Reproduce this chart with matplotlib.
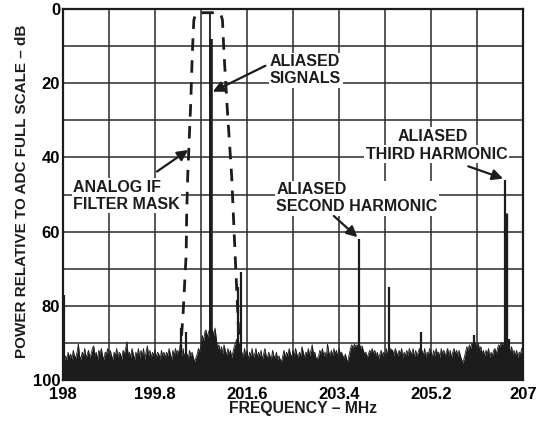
import numpy as np
import matplotlib
matplotlib.use('Agg')
import matplotlib.pyplot as plt
from matplotlib.ticker import MultipleLocator

plt.rcParams['font.family'] = ['Liberation Sans', 'DejaVu Sans']
plt.rcParams['font.weight'] = 'bold'

# ---------------- data ----------------
freq_start_mhz = 198.0
freq_step_mhz = 0.025
noise_floor_db = [
    94.5, 95.0, 93.5, 94.5, 92.5, 94.0, 93.0, 94.5, 92.0, 93.5,
    94.0, 92.5, 90.3, 93.5, 94.5, 92.5, 93.5, 91.5, 94.0, 93.0,
    92.0, 94.0, 93.0, 91.5, 90.8, 93.5, 92.5, 94.5, 92.0, 93.0,
    91.5, 93.5, 94.5, 92.5, 93.0, 91.5, 94.0, 92.0, 93.5, 94.5,
    92.5, 93.5, 91.5, 94.0, 92.5, 93.0, 94.5, 92.0, 93.0, 91.5,
    89.7, 93.5, 92.5, 94.0, 91.5, 93.0, 94.5, 92.5, 93.5, 91.5,
    94.0, 92.0, 93.5, 91.5, 94.5, 92.5, 90.8, 93.5, 92.0, 94.0,
    92.5, 93.5, 91.8, 94.0, 92.5, 93.0, 94.5, 92.0, 93.5, 92.5,
    94.0, 92.5, 93.5, 91.5, 93.0, 94.5, 92.0, 93.5, 91.5, 93.0,
    92.0, 94.0, 92.5, 93.5, 91.5, 94.0, 92.5, 93.0, 94.5, 92.0,
    93.5, 92.5, 94.0, 95.1, 94.0, 93.0, 91.5, 92.5, 90.5, 88.0,
    89.5, 87.0, 86.5, 88.5, 87.0, 86.0, 87.5, 86.5, 88.0, 86.0,
    89.0, 91.5, 90.5, 92.5, 91.0, 93.0, 90.5, 92.0, 93.5, 91.5,
    93.0, 92.0, 94.0, 92.5, 91.0, 90.0, 89.0, 92.0, 91.5, 93.5,
    92.5, 94.0, 91.5, 93.5, 92.0, 94.5, 92.5, 93.5, 91.5, 94.0,
    93.0, 91.5, 94.0, 92.5, 93.5, 92.0, 94.5, 93.0, 91.5, 93.5,
    94.0, 92.5, 93.5, 94.5, 92.0, 93.5, 94.0, 92.5, 94.5, 93.5,
    94.5, 95.0, 93.5, 92.0, 94.0, 92.5, 93.5, 91.5, 93.0, 94.0,
    92.0, 93.5, 91.5, 93.0, 94.0, 92.5, 93.5, 91.0, 92.5, 94.0,
    92.5, 93.0, 91.5, 93.5, 92.0, 90.5, 93.0, 92.5, 94.0, 94.3,
    93.5, 92.0, 93.0, 91.5, 93.5, 92.5, 94.0, 90.3, 92.5, 93.5,
    92.0, 93.5, 91.5, 93.0, 92.0, 94.0, 91.5, 93.0, 92.5, 93.5,
    94.0, 93.0, 94.5, 94.9, 93.0, 91.5, 90.5, 91.5, 90.3, 91.0,
    90.5, 91.0, 90.3, 91.5, 90.8, 92.0, 93.0, 92.5, 94.0, 93.0,
    92.0, 92.5, 91.5, 93.0, 92.0, 93.5, 92.5, 94.3, 93.0, 92.0,
    93.5, 92.5, 94.0, 91.5, 93.0, 92.5, 91.5, 91.8, 92.0, 93.5,
    91.5, 92.5, 93.5, 92.0, 93.0, 91.5, 94.0, 92.5, 93.5, 92.0,
    93.5, 91.5, 92.5, 93.0, 91.5, 94.0, 92.0, 93.5, 92.5, 91.5,
    93.0, 92.0, 93.5, 91.5, 94.0, 92.5, 93.0, 91.5, 92.5, 94.0,
    92.0, 93.5, 91.5, 93.0, 92.5, 94.0, 91.5, 93.0, 92.0, 93.5,
    92.5, 91.5, 93.5, 92.0, 94.0, 92.5, 91.5, 93.0, 92.0, 93.5,
    92.0, 93.5, 94.5, 95.5, 94.0, 92.5, 91.0, 92.0, 90.5, 91.5,
    90.0, 91.0, 89.5, 90.5, 91.5, 90.0, 92.0, 91.0, 93.0, 92.0,
    93.5, 92.0, 93.0, 91.5, 94.0, 92.5, 93.5, 92.0, 91.5, 93.0,
    91.5, 90.5, 91.0, 89.8, 90.5, 90.0, 91.5, 90.5, 92.0, 91.0,
    92.5, 91.0, 93.0, 92.0, 93.5, 92.0, 94.0, 92.5, 93.0, 91.5,
    92.5,
]

spur_freq_mhz = [198.01, 200.30, 200.40, 201.42, 201.48, 203.79,
                 204.38, 205.00, 206.04, 206.65, 206.72]
spur_level_db = [77, 86, 87, 75, 71, 62, 75, 87, 88, 46, 89]

signal_freq_mhz = [200.88, 200.90]
signal_level_db = [1, 8]

third_body_freq_mhz = [206.66]
third_body_level_db = [55]

mask_freq_mhz = [200.29, 200.35, 200.41, 200.42, 200.44, 200.47, 200.50,
                 200.53, 200.56, 200.60, 200.84, 201.08, 201.12, 201.15,
                 201.21, 201.30, 201.37, 201.42, 201.46]
mask_level_db = [94, 82, 66, 55, 45, 35, 25, 12, 3, 1, 1, 1, 3, 12,
                 26, 45, 67, 82, 94]

x_ticks = [198, 199.8, 201.6, 203.4, 205.2, 207]
x_tick_labels = ['198', '199.8', '201.6', '203.4', '205.2', '207']
y_ticks = [0, 20, 40, 60, 80, 100]
y_tick_labels = ['0', '20', '40', '60', '80', '100']

# ---------------- figure ----------------
W, H = 542, 421
fig = plt.figure(figsize=(W / 100, H / 100), dpi=100)
ax = fig.add_axes([63 / W, 1 - 380 / H, 460 / W, 371 / H])

ink = '#1c1c1c'
freqs = freq_start_mhz + freq_step_mhz * np.arange(len(noise_floor_db))
ax.fill_between(freqs, noise_floor_db, 100, color=ink, lw=0, zorder=3)
ax.plot(freqs, noise_floor_db, color=ink, lw=0.6, zorder=3)

ax.vlines(spur_freq_mhz, spur_level_db, 100, color=ink, lw=1.6, zorder=4)
ax.vlines(third_body_freq_mhz, third_body_level_db, 100, color=ink, lw=2.4, zorder=4)
ax.vlines(signal_freq_mhz[0], signal_level_db[0], 100, color=ink, lw=1.3, zorder=4)
ax.vlines(signal_freq_mhz[1], signal_level_db[1], 100, color=ink, lw=2.6, zorder=4)

ax.plot(mask_freq_mhz, mask_level_db, color=ink, lw=2.0,
        dashes=(4.5, 3.4), zorder=4)

ax.set_xlim(198, 207)
ax.set_ylim(100, 0)
ax.set_xticks(x_ticks)
ax.set_xticklabels(x_tick_labels)
ax.set_yticks(y_ticks)
ax.set_yticklabels(y_tick_labels)
ax.xaxis.set_minor_locator(MultipleLocator(0.9))
ax.yaxis.set_minor_locator(MultipleLocator(10))
ax.grid(True, which='both', color='#2a2a2a', lw=1.1, zorder=1)
ax.set_axisbelow(True)
ax.tick_params(which='both', length=0, labelsize=12)
ax.tick_params(axis='x', pad=5)
ax.tick_params(axis='y', pad=2)
for s in ax.spines.values():
    s.set_linewidth(1.6)
    s.set_color(ink)
    s.set_zorder(6)

fig.text(303 / W, 1 - 408 / H, 'FREQUENCY – MHz', fontsize=11.3,
         fontweight='bold', ha='center', va='center', color=ink)
fig.text(22 / W, 1 - 191 / H, 'POWER RELATIVE TO ADC FULL SCALE – dB',
         fontsize=11.0, fontweight='bold', rotation=90, ha='center',
         va='center', color=ink)

box = dict(facecolor='white', edgecolor='none', pad=1.0)
arrow = dict(arrowstyle='-|>', color=ink, lw=1.6, mutation_scale=16,
             shrinkA=0, shrinkB=0)
tfont = dict(fontsize=11.5, fontweight='bold', color=ink, zorder=5,
             linespacing=1.15)

ax.text(202.05, 16.5, 'ALIASED\nSIGNALS', ha='left', va='center', bbox=box, **tfont)
ax.annotate('', xy=(200.93, 22.3), xytext=(201.96, 15.3), arrowprops=arrow, zorder=5)

ax.text(198.2, 50.3, 'ANALOG IF\nFILTER MASK', ha='left', va='center', bbox=box, **tfont)
ax.annotate('', xy=(200.45, 38.0), xytext=(199.84, 43.8), arrowprops=arrow, zorder=5)

ax.text(202.17, 51.0, 'ALIASED\nSECOND HARMONIC', ha='left', va='center', bbox=box, **tfont)
ax.annotate('', xy=(203.76, 61.5), xytext=(203.30, 55.8), arrowprops=arrow, zorder=5)

ax.text(204.54, 34.3, 'ALIASED', ha='left', va='center', bbox=box, **tfont)
ax.text(206.69, 39.2, 'THIRD HARMONIC', ha='right', va='center', bbox=box, **tfont)
ax.annotate('', xy=(206.61, 45.7), xytext=(205.93, 42.4), arrowprops=arrow, zorder=5)

fig.savefig('out.png', dpi=100)
